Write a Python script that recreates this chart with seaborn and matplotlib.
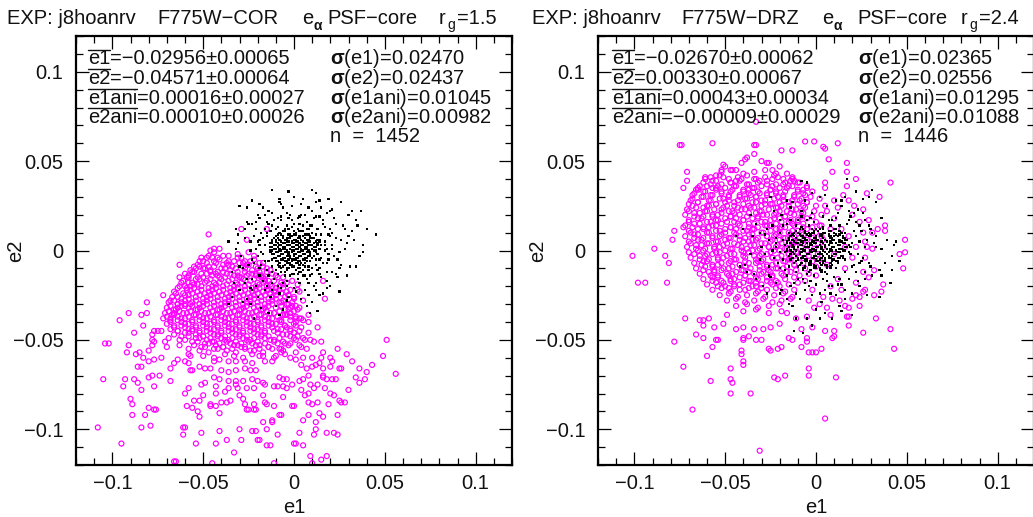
import numpy as np
import matplotlib
matplotlib.use("Agg")
import matplotlib.pyplot as plt
from matplotlib.lines import Line2D
from matplotlib.ticker import FixedLocator, FixedFormatter, MultipleLocator
import seaborn as sns

# ---------------- data (e1, e2 in units of 1e-3) ----------------
LEFT_MAG_OUTER = [
    (-104,-52),(-102,-52),(-105,-72),(-96,-39),(-91,-35),(-84,-36),(-81,-35),(-81,-29),(-72,-25),(-83,-42),
    (-88,-46),(-91,-53),(-92,-57),(-94,-76),(-93,-72),(-88,-72),(-90,-83),(-89,-86),(-89,-92),(-80,-88),
    (-82,-92),(-84,-99),(-79,-98),(-95,-108),(-108,-99),(-77,-89),(-76,-89),(-84,-78),(-86,-74),(-80,-71),
    (-78,-70),(-74,-70),(-77,-76),(-68,-73),(-60,-80),(-58,-77),(-61,-99),(-60,-99),(-61,-103),(-54,-108),
    (-66,-118),(-65,-118),(-51,-102),(-45,-119),(-43,-108),(-41,-101),(-37,-106),(-33,-113),(-29,-106),(-30,-100),
    (-23,-101),(-21,-101),(-20,-106),(-19,-106),(-15,-109),(-13,-109),(-11,-119),(-9,-103),(0,-108),(1,-108),
    (3,-102),(5,-109),(9,-115),(10,-119),(15,-117),(18,-115),(11,-103),(12,-100),(18,-102),(22,-102),
    (24,-103),(12,-96),(14,-91),(16,-93),(24,-92),(26,-85),(28,-85),(25,-84),(19,-86),(13,-85),
    (10,-86),(8,-85),(6,-81),(0,-87),(-1,-87),(-6,-82),(-11,-87),(-16,-85),(-21,-89),(-22,-89),
    (-25,-89),(-26,-89),(-27,-86),(-22,-86),(-8,-92),(-7,-92),(-12,-95),(-12,-96),(-17,-96),(-15,-100),
    (8,-92),(5,-95),(23,-72),(21,-72),(30,-78),(34,-71),(36,-74),(39,-72),(36,-66),(40,-68),
    (43,-64),(49,-59),(51,-50),(56,-69),(32,-62),(29,-58),(24,-55),(25,-66),(26,-66),(20,-65),
    (21,-62),(20,-60),(16,-57),(16,-71),(18,-72),(11,-77),(17,-77),(20,-80),(22,-81),(8,-80),
    (4,-78),(13,-43),(15,-51),(8,-40),(5,-39),(1,-37),(8,-36),(3,-32),(5,-28),(17,-27),
    (16,-17),(2,-19),(-15,12),(-29,12),(-26,6),(-47,9),(-46,0),(-44,1),(-41,1),(-51,-4),
    (-48,-4),(-63,-8),(-63,-15),(-57,-11),(-54,-10),(-52,-9),(-58,-15),(-60,-20),(-58,-18),(-64,-26),
    (-64,-30),(-68,-28),(-66,-35),(-68,-38),(-60,-31),(-57,-30),(-77,-45),(-75,-45),(-73,-45),(-78,-47),
    (-78,-50),(-78,-53),(-77,-51),(-80,-56),(-87,-58),(-85,-57),(-83,-60),(-80,-62),(-84,-65),(-86,-65),
    (-77,-61),(-73,-60),(-70,-54),(-69,-49),(-71,-51),(-63,-53),(-63,-50),(-58,-55),(-57,-59),(-57,-67),
    (-56,-67),(-52,-65),(-49,-66),(-46,-66),(-64,-61),(-66,-63),(-68,-66),(-60,-62),(-58,-58),(-58,-63),
    (-55,-84),(-53,-90),(-52,-93),(-52,-84),(-59,-87),(-56,-88),(-46,-86),(-46,-87),(-43,-87),(-41,-91),
    (-40,-85),(-37,-85),(-35,-84),(-50,-81),(-49,-74),(-51,-75),(-43,-76),(-43,-80),(-38,-79),(-36,-77),
    (-31,-77),(-30,-81),(-28,-83),(-32,-73),(-32,-75),(-26,-77),(-22,-77),(-17,-81),(-15,-86),(-16,-75),
    (-11,-76),(-8,-71),(-6,-72),(-4,-72),(-9,-76),(-6,-76),(-4,-77),(-1,-75),(3,-73),(5,-72),
    (8,-70),(9,-75),(13,-75),(16,-70),(16,-66),(12,-64),(10,-65),(7,-66),(4,-64),(14,-63),
    (15,-60),(10,-60),(5,-60),(1,-61),(-2,-60),(-7,-57),(-10,-59),(-12,-62),(-16,-62),(-19,-59),
    (-23,-63),(-21,-67),(-24,-67),(-27,-66),(-32,-67),(-36,-68),(-40,-67),(-23,-72),(-20,-73),(-17,-74),
    (-28,-73),(-36,-73),(-41,-72),(-44,-71),(-44,-62),(-41,-61),(-36,-62),(-32,-62),(-27,-62),(7,-55),
    (3,-53),(1,-50),(-2,-52),(-7,-55),(9,-50),(11,-51),(5,-49),(3,-45),(0,-46),(-2,-44),
    (-5,-42),(-8,-39),(-5,-36),(-2,-35),(0,-41),(3,-38),(2,-33),(-1,-31),(-4,-30),(-7,-29),
    (-3,-25),(0,-26),(3,-23),(2,-22),(-1,-17),(-6,-15),(-10,-23),(-12,-20),(-14,-22),(-16,-17),
    (-18,-14),(-21,-13),
]
LEFT_MAG_CORE = [
    (-44,-1),(-39,-3),(-31,-2),(-25,-1),
    (-50,-6),(-45,-4),(-41,-5),(-36,-6),(-31,-4),(-27,-6),(-22,-5),
    (-53,-8),(-47,-9),(-43,-7),(-39,-8),(-34,-9),(-30,-7),(-26,-8),(-21,-9),(-17,-7),
    (-56,-12),(-50,-10),(-46,-11),(-42,-12),(-38,-10),(-35,-11),(-31,-12),(-27,-10),(-23,-11),(-19,-12),(-15,-10),
    (-58,-14),(-53,-15),(-48,-13),(-45,-14),(-41,-15),(-37,-13),(-33,-14),(-29,-15),(-25,-13),(-21,-14),(-17,-15),(-12,-13),
    (-61,-17),(-56,-18),(-52,-16),(-48,-17),(-44,-18),(-40,-16),(-36,-17),(-32,-18),(-28,-16),(-24,-17),(-20,-18),(-16,-16),(-11,-17),(-7,-18),
    (-63,-20),(-59,-21),(-55,-19),(-51,-20),(-47,-21),(-43,-19),(-39,-20),(-35,-21),(-31,-19),(-27,-20),(-23,-21),(-19,-19),(-15,-20),(-10,-21),(-6,-19),
    (-66,-23),(-61,-24),(-57,-22),(-53,-23),(-49,-24),(-45,-22),(-41,-23),(-37,-24),(-33,-22),(-29,-23),(-25,-24),(-21,-22),(-17,-23),(-13,-24),(-8,-22),(-4,-23),
    (-67,-26),(-62,-27),(-58,-25),(-54,-26),(-50,-27),(-46,-25),(-42,-26),(-38,-27),(-34,-25),(-30,-26),(-26,-27),(-22,-25),(-18,-26),(-14,-27),(-10,-25),(-5,-26),(0,-27),
    (-69,-29),(-64,-30),(-60,-28),(-56,-29),(-52,-30),(-48,-28),(-44,-29),(-40,-30),(-36,-28),(-32,-29),(-28,-30),(-24,-28),(-20,-29),(-16,-30),(-12,-28),(-8,-29),(-3,-30),
    (-70,-32),(-66,-33),(-62,-31),(-58,-32),(-54,-33),(-50,-31),(-46,-32),(-42,-33),(-38,-31),(-34,-32),(-30,-33),(-26,-31),(-22,-32),(-18,-33),(-14,-31),(-10,-32),(-5,-33),(1,-31),
    (-71,-35),(-67,-36),(-63,-34),(-59,-35),(-55,-36),(-51,-34),(-47,-35),(-43,-36),(-39,-34),(-35,-35),(-31,-36),(-27,-34),(-23,-35),(-19,-36),(-15,-34),(-11,-35),(-6,-36),(0,-34),
    (-72,-38),(-68,-39),(-64,-37),(-60,-38),(-56,-39),(-52,-37),(-48,-38),(-44,-39),(-40,-37),(-36,-38),(-32,-39),(-28,-37),(-24,-38),(-20,-39),(-16,-37),(-12,-38),(-7,-39),(-2,-37),(4,-38),
    (-70,-41),(-66,-42),(-62,-40),(-58,-41),(-54,-42),(-50,-40),(-46,-41),(-42,-42),(-38,-40),(-34,-41),(-30,-42),(-26,-40),(-22,-41),(-18,-42),(-14,-40),(-10,-41),(-5,-42),(1,-40),
    (-68,-44),(-64,-45),(-60,-43),(-56,-44),(-52,-45),(-48,-43),(-44,-44),(-40,-45),(-36,-43),(-32,-44),(-28,-45),(-24,-43),(-20,-44),(-16,-45),(-12,-43),(-7,-44),(-2,-45),(4,-43),
    (-66,-47),(-62,-48),(-58,-46),(-54,-47),(-50,-48),(-46,-46),(-42,-47),(-38,-48),(-34,-46),(-30,-47),(-26,-48),(-22,-46),(-18,-47),(-14,-48),(-9,-46),(-4,-47),(2,-48),(8,-46),
    (-60,-50),(-56,-51),(-52,-49),(-48,-50),(-44,-51),(-40,-49),(-36,-50),(-32,-51),(-28,-49),(-24,-50),(-20,-51),(-16,-49),(-11,-50),(-6,-51),(0,-49),(6,-50),
    (-55,-53),(-51,-54),(-47,-52),(-43,-53),(-39,-54),(-35,-52),(-31,-53),(-27,-54),(-23,-52),(-19,-53),(-14,-54),(-9,-52),(-3,-53),(4,-54),
    (-52,-56),(-47,-57),(-42,-55),(-37,-56),(-32,-57),(-27,-55),(-22,-56),(-17,-57),(-12,-55),(-6,-56),(1,-57),
    (-50,-59),(-44,-60),(-38,-58),(-33,-59),(-28,-60),(-23,-58),(-17,-59),(-11,-60),(-5,-58),
]
LEFT_MAG_CORE2 = [
    (-47,-3),(-42,-4),(-36,-3),(-29,-4),(-22,-3),
    (-52,-6),(-48,-7),(-44,-6),(-37,-7),(-33,-6),(-28,-7),(-24,-6),(-19,-7),
    (-55,-9),(-49,-10),(-44,-9),(-40,-10),(-36,-8),(-32,-10),(-28,-9),(-25,-8),(-20,-10),(-17,-9),(-13,-11),
    (-60,-13),(-55,-12),(-51,-13),(-46,-12),(-43,-13),(-39,-12),(-35,-13),(-31,-14),(-27,-12),(-23,-13),(-19,-14),(-15,-12),(-10,-14),
    (-59,-15),(-54,-16),(-50,-15),(-46,-16),(-42,-14),(-38,-15),(-34,-16),(-30,-15),(-26,-14),(-22,-16),(-18,-15),(-14,-17),(-9,-15),
    (-62,-18),(-57,-20),(-53,-19),(-49,-18),(-45,-20),(-41,-18),(-37,-19),(-33,-20),(-29,-18),(-25,-19),(-21,-20),(-17,-18),(-13,-19),(-8,-20),(-4,-18),
    (-64,-21),(-59,-22),(-55,-21),(-51,-22),(-47,-23),(-43,-21),(-39,-22),(-35,-23),(-31,-21),(-27,-22),(-23,-23),(-19,-21),(-15,-22),(-11,-23),(-6,-21),(-2,-22),
    (-65,-24),(-60,-25),(-56,-24),(-52,-25),(-48,-26),(-44,-24),(-40,-25),(-36,-26),(-32,-24),(-28,-25),(-24,-26),(-20,-24),(-16,-25),(-12,-26),(-7,-24),(-3,-25),
    (-66,-28),(-62,-29),(-58,-27),(-54,-28),(-50,-29),(-46,-27),(-42,-28),(-38,-29),(-34,-27),(-30,-28),(-26,-29),(-22,-27),(-18,-28),(-14,-29),(-10,-27),(-6,-28),(-1,-29),
    (-68,-31),(-64,-32),(-60,-30),(-56,-31),(-52,-32),(-48,-30),(-44,-31),(-40,-32),(-36,-30),(-32,-31),(-28,-32),(-24,-30),(-20,-31),(-16,-32),(-12,-30),(-7,-31),(-2,-32),
    (-69,-34),(-65,-33),(-61,-35),(-57,-34),(-53,-33),(-49,-35),(-45,-34),(-41,-33),(-37,-35),(-33,-34),(-29,-33),(-25,-35),(-21,-34),(-17,-33),(-13,-35),(-8,-34),(-3,-33),
    (-70,-37),(-66,-36),(-62,-38),(-58,-37),(-54,-36),(-50,-38),(-46,-37),(-42,-36),(-38,-38),(-34,-37),(-30,-36),(-26,-38),(-22,-37),(-18,-36),(-14,-38),(-9,-37),(-4,-36),(1,-38),
    (-68,-40),(-64,-39),(-60,-41),(-56,-40),(-52,-39),(-48,-41),(-44,-40),(-40,-39),(-36,-41),(-32,-40),(-28,-39),(-24,-41),(-20,-40),(-16,-39),(-12,-41),(-7,-40),(-2,-39),
    (-66,-43),(-62,-42),(-58,-44),(-54,-43),(-50,-42),(-46,-44),(-42,-43),(-38,-42),(-34,-44),(-30,-43),(-26,-42),(-22,-44),(-18,-43),(-14,-42),(-9,-44),(-4,-43),(1,-42),
    (-64,-45),(-60,-46),(-56,-45),(-52,-46),(-48,-45),(-44,-47),(-40,-46),(-36,-45),(-32,-47),(-28,-46),(-24,-45),(-20,-47),(-16,-46),(-11,-45),(-6,-47),(0,-46),
    (-58,-48),(-54,-49),(-50,-48),(-46,-49),(-42,-48),(-38,-50),(-34,-49),(-30,-48),(-26,-50),(-22,-49),(-18,-48),(-13,-50),(-8,-49),(-2,-48),
    (-53,-51),(-49,-52),(-45,-51),(-41,-52),(-37,-51),(-33,-53),(-29,-52),(-25,-51),(-21,-53),(-16,-52),(-11,-51),(-5,-52),
    (-49,-54),(-44,-55),(-39,-54),(-34,-55),(-29,-54),(-24,-56),(-19,-55),(-14,-54),(-8,-55),
]
LEFT_BLK_CORE = [
    (-5,12),(-1,13),(3,11),(7,12),
    (-8,10),(-5,11),(-2,9),(1,10),(4,11),(7,9),(10,10),
    (-10,8),(-7,9),(-4,7),(-2,8),(0,9),(2,7),(5,8),(8,9),(11,7),
    (-12,6),(-9,7),(-7,5),(-5,6),(-3,7),(-1,5),(1,6),(3,7),(5,5),(7,6),(9,7),(12,5),
    (-13,4),(-10,5),(-8,3),(-6,4),(-4,5),(-2,3),(0,4),(2,5),(4,3),(6,4),(8,5),(10,3),(13,4),
    (-12,2),(-10,3),(-8,1),(-6,2),(-4,3),(-2,1),(0,2),(2,3),(4,1),(6,2),(8,3),(10,1),(12,2),(15,3),
    (-13,0),(-11,1),(-9,-1),(-7,0),(-5,1),(-3,-1),(-1,0),(1,1),(3,-1),(5,0),(7,1),(9,-1),(11,0),(14,1),
    (-12,-2),(-10,-1),(-8,-3),(-6,-2),(-4,-1),(-2,-3),(0,-2),(2,-1),(4,-3),(6,-2),(8,-1),(11,-3),(13,-2),
    (-11,-4),(-9,-3),(-7,-5),(-5,-4),(-3,-3),(-1,-5),(1,-4),(3,-3),(5,-5),(7,-4),(9,-3),(12,-5),
    (-10,-6),(-8,-7),(-6,-5),(-4,-6),(-2,-7),(0,-5),(2,-6),(4,-7),(6,-5),(9,-6),
    (-9,-8),(-6,-9),(-4,-7),(-2,-8),(0,-9),(2,-7),(5,-8),(8,-9),
    (-7,-10),(-4,-11),(-1,-9),(2,-10),(5,-11),
    (-5,-12),(-1,-13),(3,-12),
]
LEFT_BLK_CORE2 = [
    (-6,11),(-3,12),(0,11),(2,12),(5,11),(8,12),
    (-9,9),(-6,8),(-3,9),(-1,8),(1,9),(3,8),(6,9),(9,8),(12,9),
    (-11,7),(-8,6),(-6,7),(-4,6),(-2,7),(0,6),(2,7),(4,6),(6,7),(8,6),(10,7),(13,6),
    (-12,5),(-9,4),(-7,5),(-5,4),(-3,5),(-1,4),(1,5),(3,4),(5,5),(7,4),(9,5),(11,4),(14,5),
    (-13,2),(-11,3),(-9,2),(-7,3),(-5,2),(-3,3),(-1,2),(1,3),(3,2),(5,3),(7,2),(9,3),(11,2),(13,3),
    (-12,0),(-10,1),(-8,0),(-6,1),(-4,0),(-2,1),(0,0),(2,1),(4,0),(6,1),(8,0),(10,1),(12,0),
    (-11,-2),(-9,-1),(-7,-2),(-5,-1),(-3,-2),(-1,-1),(1,-2),(3,-1),(5,-2),(7,-1),(9,-2),(12,-1),
    (-10,-4),(-8,-3),(-6,-4),(-4,-3),(-2,-4),(0,-3),(2,-4),(4,-3),(6,-4),(8,-3),(10,-4),
    (-9,-6),(-7,-5),(-5,-6),(-3,-5),(-1,-6),(1,-5),(3,-6),(5,-5),(7,-6),
    (-8,-7),(-5,-8),(-3,-7),(-1,-8),(1,-7),(3,-8),(6,-7),
    (-6,-9),(-3,-10),(0,-9),(3,-10),(6,-9),
]
LEFT_BLK_HALO = [
    (-12,34),(-3,33),(10,34),(12,32),(14,28),(0,30),(5,29),(-8,29),(-7,26),(-30,25),
    (-26,24),(-17,24),(-14,22),(21,23),(20,22),(32,22),(30,20),(34,17),(45,9),(32,11),
    (33,6),(29,4),(28,1),(34,-9),(31,-9),(29,-14),(24,-15),(25,-23),(20,-20),(14,-25),
    (13,-34),(10,-29),(7,-31),(1,-23),(-4,-28),(-10,-31),(-22,-38),(-28,-29),(-26,-27),(-21,-20),
    (-23,-22),(-23,-16),(-26,-16),(-30,-9),(-32,1),(-32,12),(-31,9),(-26,16),(-23,15),(-19,18),
    (-21,16),(-15,-20),(-12,-18),(-7,-21),(-4,-20),(3,-18),(7,-16),(12,-18),(18,-17),(21,-12),
    (25,-10),(21,1),(25,-1),(20,8),(21,10),(10,14),(7,16),(3,19),(-4,21),(-12,14),
    (-15,10),(-19,6),(-21,1),(-23,-5),(-19,-10),(-14,-14),(-12,-12),(-10,12),(-7,17),(-1,17),
    (3,15),(12,19),(16,17),(14,6),(17,3),(14,-5),(18,-7),(10,-10),(14,-13),(5,-14),
    (1,-11),(-4,-10),(-8,-9),(-12,-5),(-13,-1),(-12,4),(-10,6),
    (-15,8),(-16,3),(-17,-2),(-14,-6),(-12,-9),(-9,-13),(-5,-14),(0,-13),(4,-12),(8,-11),
    (12,-8),(15,-4),(17,0),(17,5),(15,9),(13,12),(9,14),(5,14),(0,15),(-4,14),
    (-9,13),(-13,11),(-18,10),(-20,5),(-20,-3),(-18,-8),(-15,-11),(-11,-16),(-6,-18),(2,-16),
    (9,-14),(14,-10),(19,-5),(21,3),(20,12),(16,15),(11,18),(4,20),(-3,18),(-9,18),
    (-15,16),(-22,8),(-24,0),(-25,-8),(-19,-14),(-16,-22),(-8,-24),(0,-21),(6,-22),(12,-22),
    (18,-12),(24,-5),(26,6),(23,15),(18,21),(8,24),(-1,25),(-12,21),(-20,20),(-27,12),
    (-29,-3),(-27,-18),(-13,-26),(-30,-22),(-34,-26),(-36,-30),(-18,-32),(-14,-35),(-6,-33),(4,-27),
    (8,-25),(16,-24),(18,-21),(36,-3),(38,3),(27,14),(35,14),(-36,5),(-34,-12),
    (-16,12),(-14,15),(-11,17),(-7,19),(-2,20),(2,18),(6,20),(10,22),(14,19),(17,13),
    (19,9),(18,1),(19,-2),(16,-7),(13,-11),(10,-13),(6,-14),(2,-13),(-2,-14),(-7,-12),
    (-10,-11),(-16,-6),(-18,-1),(-19,3),(-17,7),(-21,12),(-24,5),(-22,-7),(-17,-17),(-12,-22),
    (-4,-17),(8,-18),(15,-15),(22,-3),(23,7),(22,18),(15,24),(4,26),(-6,24),(-16,20),
    (-25,15),(-27,7),(-28,-10),(-24,-21),(-9,-20),(11,-20),(26,-8),(28,12),(12,27),(-8,27),
    (-19,26),(-31,4),(-20,-26),(-3,-26),(23,-13),(30,8),(26,27),(19,29),(-23,28),(38,-1),
    (-33,-18),(-24,-30),(-8,-36),(9,-35),(40,12),(37,22),
]

RIGHT_MAG_OUTER = [
    (-101,-3),(-98,-18),(-94,-18),(-89,1),(-83,-3),(-81,-7),(-82,-18),(-78,-51),(-79,6),(-78,11),
    (-73,13),(-73,35),(-71,39),(-71,44),(-75,59),(-66,34),(-61,41),(-57,60),(-57,35),(-55,42),
    (-52,45),(-51,48),(-50,47),(-47,45),(-44,45),(-41,49),(-39,51),(-38,52),(-34,59),(-34,54),
    (-30,50),(-26,49),(-19,56),(-13,56),(-6,61),(-1,61),(5,57),(12,60),(7,51),(17,49),
    (17,44),(9,44),(22,40),(17,36),(5,38),(5,35),(28,32),(35,30),(41,38),(38,11),
    (38,14),(34,12),(31,10),(49,6),(49,-1),(46,-2),(48,-10),(37,-19),(36,-23),(32,-25),
    (27,-22),(33,-38),(41,-44),(43,-55),(26,-46),(18,-42),(18,-37),(17,-37),(11,-71),(5,-94),
    (-4,-66),(-4,-70),(-2,-57),(-4,-57),(3,-55),(9,-49),(10,-48),(5,-45),(10,-45),(0,-57),
    (-2,-43),(-5,-51),(-5,-49),(-8,-44),(-8,-54),(-15,-49),(-13,-50),(-19,-54),(-23,-71),(-21,-72),
    (-17,-70),(-21,-55),(-25,-56),(-26,-55),(-30,-50),(-33,-50),(-37,-48),(-40,-49),(-40,-50),(-41,-58),
    (-41,-56),(-40,-64),(-40,-62),(-47,-66),(-47,-72),(-46,-74),(-47,-80),(-36,-80),(-31,-112),(-68,-89),
    (-73,-65),(-58,-73),(-60,-59),(-57,-54),(-55,-50),(-54,-50),(-66,-47),(-62,-49),(-64,-39),(-62,-39),
    (-59,-38),(-72,-38),(-62,-42),(-56,-43),(-51,-41),(-49,-36),(-44,-44),(-40,-43),(-34,-44),(-29,-44),
    (-25,-43),(-20,-41),(-16,-35),(-11,-38),(-5,-37),(-1,-32),(6,-32),(9,-27),(13,-28),(16,-31),
    (20,-27),(24,-31),(22,-25),(26,-23),(29,-15),(32,-11),(27,-4),(31,1),(27,5),(26,10),
    (29,17),(26,23),(21,25),(18,28),(15,31),(10,28),(5,25),(2,29),(-2,33),(-5,36),
    (-10,38),(-13,40),(-16,43),(-20,47),(-24,45),(-27,49),(-74,59),(-33,59),(-33,72),(4,58),
    (6,22),(10,18),(14,12),(18,8),(22,2),(20,-4),(16,-10),(12,-16),(8,-20),(4,-26),
    (-2,-22),(0,-14),(6,-8),(10,-2),(4,6),(8,12),(2,14),(12,24),(20,20),(24,16),
    (26,-12),(22,-18),(14,-22),(2,-30),(-4,-28),(16,2),(28,2),(24,-26),(18,-32),(8,-36),
]
RIGHT_MAG_CORE = [
    (-52,44),(-46,45),(-40,43),(-34,44),(-28,45),(-22,43),
    (-58,41),(-53,42),(-48,40),(-43,41),(-38,42),(-33,40),(-28,41),(-23,42),(-18,40),(-13,41),
    (-62,38),(-57,39),(-52,37),(-47,38),(-42,39),(-37,37),(-32,38),(-27,39),(-22,37),(-17,38),(-12,39),
    (-65,35),(-60,36),(-55,34),(-50,35),(-45,36),(-40,34),(-35,35),(-30,36),(-25,34),(-20,35),(-15,36),(-10,34),(-5,35),
    (-67,32),(-62,33),(-57,31),(-52,32),(-47,33),(-42,31),(-37,32),(-32,33),(-27,31),(-22,32),(-17,33),(-12,31),(-7,32),
    (-68,29),(-63,30),(-58,28),(-53,29),(-48,30),(-43,28),(-38,29),(-33,30),(-28,28),(-23,29),(-18,30),(-13,28),(-8,29),(-3,30),
    (-70,26),(-65,27),(-60,25),(-55,26),(-50,27),(-45,25),(-40,26),(-35,27),(-30,25),(-25,26),(-20,27),(-15,25),(-10,26),(-5,27),(0,25),
    (-71,23),(-66,24),(-61,22),(-56,23),(-51,24),(-46,22),(-41,23),(-36,24),(-31,22),(-26,23),(-21,24),(-16,22),(-11,23),(-6,24),(-1,22),
    (-72,20),(-67,21),(-62,19),(-57,20),(-52,21),(-47,19),(-42,20),(-37,21),(-32,19),(-27,20),(-22,21),(-17,19),(-12,20),(-7,21),(-2,19),(3,20),
    (-70,17),(-65,18),(-60,16),(-55,17),(-50,18),(-45,16),(-40,17),(-35,18),(-30,16),(-25,17),(-20,18),(-15,16),(-10,17),(-5,18),(0,16),
    (-72,14),(-67,15),(-62,13),(-57,14),(-52,15),(-47,13),(-42,14),(-37,15),(-32,13),(-27,14),(-22,15),(-17,13),(-12,14),(-7,15),(-2,13),(3,14),
    (-70,11),(-65,12),(-60,10),(-55,11),(-50,12),(-45,10),(-40,11),(-35,12),(-30,10),(-25,11),(-20,12),(-15,10),(-10,11),(-5,12),(0,10),
    (-72,8),(-67,9),(-62,7),(-57,8),(-52,9),(-47,7),(-42,8),(-37,9),(-32,7),(-27,8),(-22,9),(-17,7),(-12,8),(-7,9),(-2,7),(3,8),
    (-70,5),(-65,6),(-60,4),(-55,5),(-50,6),(-45,4),(-40,5),(-35,6),(-30,4),(-25,5),(-20,6),(-15,4),(-10,5),(-5,6),(1,4),
    (-71,2),(-66,3),(-61,1),(-56,2),(-51,3),(-46,1),(-41,2),(-36,3),(-31,1),(-26,2),(-21,3),(-16,1),(-11,2),(-6,3),(-1,1),(4,2),
    (-70,-1),(-65,0),(-60,-2),(-55,-1),(-50,0),(-45,-2),(-40,-1),(-35,0),(-30,-2),(-25,-1),(-20,0),(-15,-2),(-10,-1),(-5,0),(1,-2),
    (-69,-4),(-64,-3),(-59,-5),(-54,-4),(-49,-3),(-44,-5),(-39,-4),(-34,-3),(-29,-5),(-24,-4),(-19,-3),(-14,-5),(-9,-4),(-4,-3),(2,-5),
    (-67,-7),(-62,-6),(-57,-8),(-52,-7),(-47,-6),(-42,-8),(-37,-7),(-32,-6),(-27,-8),(-22,-7),(-17,-6),(-12,-8),(-7,-7),(-2,-6),
    (-66,-10),(-61,-9),(-56,-11),(-51,-10),(-46,-9),(-41,-11),(-36,-10),(-31,-9),(-26,-11),(-21,-10),(-16,-9),(-11,-11),(-6,-10),(0,-9),
    (-64,-13),(-59,-12),(-54,-14),(-49,-13),(-44,-12),(-39,-14),(-34,-13),(-29,-12),(-24,-14),(-19,-13),(-14,-12),(-9,-14),(-4,-13),
    (-62,-16),(-57,-15),(-52,-17),(-47,-16),(-42,-15),(-37,-17),(-32,-16),(-27,-15),(-22,-17),(-17,-16),(-12,-15),(-6,-17),
    (-60,-19),(-55,-18),(-50,-20),(-45,-19),(-40,-18),(-35,-20),(-30,-19),(-25,-18),(-20,-20),(-15,-19),(-10,-18),
    (-57,-22),(-52,-21),(-47,-23),(-42,-22),(-37,-21),(-32,-23),(-27,-22),(-22,-21),(-17,-23),(-12,-22),
    (-53,-25),(-48,-24),(-43,-26),(-38,-25),(-33,-24),(-28,-26),(-23,-25),(-18,-24),(-13,-26),
    (-49,-28),(-44,-27),(-39,-29),(-34,-28),(-29,-27),(-24,-29),(-19,-28),(-14,-27),
    (-44,-31),(-38,-30),(-32,-32),(-26,-31),(-20,-30),
    (-40,-34),(-33,-33),(-26,-35),(-19,-34),
]
RIGHT_MAG_CORE2 = [
    (-61,40),(-55,39),(-51,41),(-44,39),(-41,40),(-34,40),(-31,39),(-24,40),(-21,41),(-14,39),
    (-64,36),(-58,37),(-54,36),(-47,38),(-44,36),(-38,37),(-34,35),(-27,37),(-24,36),(-18,37),(-13,36),(-9,38),
    (-65,34),(-61,33),(-55,35),(-52,33),(-46,34),(-40,33),(-37,34),(-31,32),(-25,34),(-22,33),(-16,35),(-10,33),(-7,34),
    (-68,31),(-62,30),(-58,31),(-51,29),(-48,31),(-42,30),(-36,31),(-33,30),(-27,32),(-21,30),(-18,31),(-12,30),(-6,31),
    (-69,28),(-65,27),(-59,28),(-55,26),(-48,28),(-45,27),(-39,29),(-33,27),(-30,28),(-24,26),(-18,28),(-15,27),(-9,28),(-5,27),
    (-68,25),(-62,24),(-59,25),(-52,23),(-49,25),(-43,24),(-37,25),(-34,24),(-28,26),(-22,24),(-19,25),(-13,23),(-7,25),
    (-70,22),(-64,21),(-60,22),(-54,20),(-48,22),(-45,21),(-39,23),(-33,21),(-30,22),(-23,20),(-20,22),(-14,21),(-8,22),
    (-67,19),(-63,18),(-57,19),(-54,17),(-47,19),(-44,18),(-38,19),(-32,18),(-29,20),(-23,18),(-17,19),(-14,17),(-8,19),
    (-70,16),(-64,15),(-58,16),(-55,14),(-49,16),(-43,15),(-40,17),(-34,15),(-28,16),(-25,14),(-19,16),(-13,15),(-10,16),
    (-68,13),(-62,12),(-59,13),(-53,11),(-47,13),(-44,12),(-37,13),(-34,12),(-28,14),(-22,12),(-19,13),(-13,11),(-7,13),
    (-69,10),(-65,9),(-59,10),(-53,8),(-50,10),(-44,9),(-38,11),(-35,9),(-29,10),(-23,8),(-20,10),(-14,9),(-8,10),
    (-67,7),(-63,6),(-57,7),(-54,5),(-48,7),(-42,6),(-39,7),(-33,6),(-27,8),(-24,6),(-18,7),(-12,5),(-9,7),
    (-69,4),(-63,3),(-59,4),(-53,2),(-49,4),(-43,3),(-37,5),(-34,3),(-28,4),(-22,2),(-19,4),(-13,3),(-7,4),
    (-66,1),(-62,0),(-56,1),(-53,-1),(-47,1),(-41,0),(-38,1),(-32,0),(-26,2),(-23,0),(-17,1),(-11,-1),
    (-67,-2),(-61,-3),(-57,-2),(-51,-4),(-47,-2),(-40,-3),(-37,-1),(-31,-3),(-27,-2),(-21,-4),(-15,-2),(-12,-3),
    (-64,-5),(-60,-6),(-54,-5),(-48,-7),(-45,-5),(-39,-6),(-33,-5),(-30,-6),(-24,-4),(-18,-6),(-15,-5),
    (-63,-8),(-57,-9),(-54,-8),(-48,-10),(-42,-8),(-39,-9),(-33,-7),(-27,-9),(-24,-8),(-18,-10),(-12,-8),
    (-62,-11),(-56,-12),(-52,-11),(-46,-13),(-40,-11),(-37,-12),(-31,-11),(-25,-12),(-22,-10),(-16,-12),
    (-58,-14),(-54,-15),(-48,-14),(-45,-16),(-39,-14),(-33,-15),(-30,-13),(-24,-15),(-18,-14),
    (-57,-17),(-51,-18),(-47,-17),(-42,-19),(-36,-17),(-33,-18),(-27,-17),(-21,-18),
    (-54,-20),(-48,-21),(-45,-20),(-39,-22),(-33,-20),(-30,-21),(-24,-19),
]
RIGHT_BLK_CORE = [
    (-8,13),(-4,14),(0,12),(4,13),(8,14),
    (-11,11),(-7,12),(-4,10),(-1,11),(2,12),(5,10),(8,11),(11,12),(14,10),
    (-13,9),(-10,10),(-7,8),(-5,9),(-2,10),(0,8),(3,9),(5,10),(8,8),(11,9),(14,10),
    (-15,7),(-12,8),(-9,6),(-7,7),(-4,8),(-2,6),(0,7),(3,8),(5,6),(8,7),(10,8),(13,6),(16,7),
    (-16,5),(-13,6),(-11,4),(-8,5),(-6,6),(-3,4),(-1,5),(1,6),(4,4),(6,5),(9,6),(11,4),(14,5),(17,6),
    (-17,3),(-14,4),(-12,2),(-9,3),(-7,4),(-4,2),(-2,3),(0,4),(3,2),(5,3),(8,4),(10,2),(13,3),(16,4),(19,2),
    (-16,1),(-13,2),(-11,0),(-8,1),(-6,2),(-3,0),(-1,1),(1,2),(4,0),(6,1),(9,2),(11,0),(14,1),(17,2),
    (-17,-1),(-14,0),(-12,-2),(-9,-1),(-7,0),(-4,-2),(-2,-1),(0,0),(3,-2),(5,-1),(8,0),(10,-2),(13,-1),(16,0),(19,-2),
    (-15,-3),(-12,-2),(-10,-4),(-7,-3),(-5,-2),(-2,-4),(0,-3),(2,-2),(5,-4),(7,-3),(10,-2),(12,-4),(15,-3),
    (-14,-5),(-11,-6),(-8,-4),(-6,-5),(-3,-6),(-1,-4),(2,-5),(4,-6),(7,-4),(9,-5),(12,-6),(15,-4),
    (-12,-7),(-9,-8),(-6,-6),(-4,-7),(-1,-8),(1,-6),(4,-7),(6,-8),(9,-6),(12,-7),
    (-10,-9),(-7,-10),(-4,-8),(-1,-9),(2,-10),(5,-8),(8,-9),(11,-10),
    (-7,-11),(-4,-12),(-1,-10),(2,-11),(5,-12),(8,-10),
    (-5,-13),(-1,-14),(3,-12),(6,-13),
]
RIGHT_BLK_CORE2 = [
    (-9,12),(-6,11),(-2,12),(1,11),(4,12),(7,11),(10,12),(13,11),
    (-12,10),(-9,9),(-6,10),(-3,9),(-1,10),(2,9),(4,10),(7,9),(10,10),(13,9),(16,10),
    (-14,8),(-11,7),(-8,8),(-6,7),(-3,8),(-1,7),(2,8),(4,7),(7,8),(9,7),(12,8),(15,7),
    (-15,6),(-12,5),(-10,6),(-7,5),(-5,6),(-2,5),(0,6),(3,5),(5,6),(8,5),(10,6),(13,5),(16,6),
    (-16,4),(-13,3),(-10,4),(-8,3),(-5,4),(-3,3),(-1,4),(2,3),(4,4),(7,3),(9,4),(12,3),(15,4),(18,3),
    (-15,2),(-12,1),(-10,2),(-7,1),(-5,2),(-2,1),(0,2),(3,1),(5,2),(8,1),(10,2),(13,1),(16,2),
    (-16,0),(-13,-1),(-11,0),(-8,-1),(-6,0),(-3,-1),(-1,0),(2,-1),(4,0),(7,-1),(9,0),(12,-1),(15,0),(18,-1),
    (-14,-2),(-11,-3),(-9,-2),(-6,-3),(-4,-2),(-1,-3),(1,-2),(4,-3),(6,-2),(9,-3),(11,-2),(14,-3),
    (-13,-4),(-10,-5),(-7,-4),(-5,-5),(-2,-4),(0,-5),(3,-4),(5,-5),(8,-4),(10,-5),(13,-4),
    (-11,-6),(-8,-7),(-5,-6),(-3,-7),(0,-6),(2,-7),(5,-6),(8,-7),(11,-6),
    (-9,-8),(-6,-9),(-3,-8),(0,-9),(3,-8),(6,-9),(9,-8),
    (-6,-10),(-3,-11),(0,-10),(3,-11),(6,-10),
]
RIGHT_BLK_HALO = [
    (17,40),(31,34),(29,30),(33,27),(26,29),(16,30),(11,28),(14,25),(2,30),(-2,32),
    (-5,38),(-8,39),(-13,27),(-16,28),(-20,17),(-24,14),(-27,12),(-31,10),(-35,8),(-40,12),
    (-44,8),(-42,-9),(-38,-12),(-33,-16),(-29,-20),(-26,-14),(-22,-18),(-20,-24),(-16,-27),(-13,-31),
    (-11,-38),(-12,-45),(-7,-46),(-2,-42),(2,-38),(5,-35),(9,-38),(13,-31),(16,-27),(20,-24),
    (24,-20),(27,-16),(31,-14),(35,-11),(38,-7),(42,-3),(42,-11),(43,3),(44,5),(36,1),
    (33,2),(31,10),(29,14),(27,17),(26,21),(21,21),(18,17),(22,8),(20,4),(16,-5),
    (20,-9),(24,-7),(27,-12),(13,-16),(9,-20),(5,-22),(2,-24),(-4,-20),(-7,-16),(-11,-12),
    (-15,-9),(-18,-5),(-20,-1),(-22,2),(-18,6),(-15,10),(-11,14),(-5,17),(-2,21),(4,19),
    (9,17),(13,14),(15,8),
    (-20,10),(-22,4),(-23,-4),(-20,-10),(-16,-14),(-10,-16),(-3,-17),(4,-16),(10,-15),(16,-12),
    (21,-8),(23,-2),(24,5),(21,11),(17,15),(11,18),(4,19),(-3,18),(-10,17),(-16,15),
    (-26,6),(-28,-2),(-26,-9),(-14,-20),(-6,-22),(7,-20),(14,-19),(26,-4),(28,6),(24,14),
    (19,19),(-8,22),(-19,20),(-30,2),(-9,-27),(3,-29),(11,-25),(30,-9),(33,8),(6,25),
    (-18,14),(-14,17),(-8,19),(-1,16),(7,17),(12,21),(18,22),(22,16),(25,11),(27,2),
    (25,-6),(22,-12),(18,-16),(12,-19),(6,-17),(0,-19),(-6,-18),(-12,-18),(-17,-11),(-21,-7),
    (-24,0),(-22,7),(-28,9),(-31,-5),(-25,-15),(-19,-22),(-11,-24),(-2,-25),(8,-24),(16,-22),
    (23,-17),(29,-7),(32,4),(30,12),(23,23),(14,28),(5,31),(-6,28),(-14,24),(-23,22),
    (-33,15),(-36,-2),(-34,-13),(-27,-24),(-15,-30),(0,-33),(14,-34),(28,-25),(36,-14),(39,6),
    (36,18),(22,33),(-25,30),(-36,20),(-39,-8),(-5,-38),(20,-36),(35,-26),(41,-18),(46,-6),
]

# ticks / text
TICK_VALUES = [-0.1, -0.05, 0.0, 0.05, 0.1]
TICK_LABELS = ["\u22120.1", "\u22120.05", "0", "0.05", "0.1"]
AX_LIMITS = (-0.12, 0.12)
X_LABEL, Y_LABEL = "e1", "e2"

LEFT_TITLE = ["EXP: j8hoanrv", "F775W\u2212COR", "e", "\u03b1", "PSF\u2212core", "r", "g", "=1.5"]
RIGHT_TITLE = ["EXP: j8hoanrv", "F775W\u2212DRZ", "e", "\u03b1", "PSF\u2212core", "r", "g", "=2.4"]
MEAN_NAMES = ["e1", "e2", "e1ani", "e2ani"]
LEFT_MEANS = ["\u22120.02956\u00b10.00065", "\u22120.04571\u00b10.00064", "0.00016\u00b10.00027", "0.00010\u00b10.00026"]
RIGHT_MEANS = ["\u22120.02670\u00b10.00062", "0.00330\u00b10.00067", "0.00043\u00b10.00034", "\u22120.00009\u00b10.00029"]
LEFT_SIGMAS = ["0.02470", "0.02437", "0.01045", "0.00982"]
RIGHT_SIGMAS = ["0.02365", "0.02556", "0.01295", "0.01088"]
LEFT_N, RIGHT_N = 1452, 1446

# ---------------- style ----------------
sns.set_theme(style="ticks")
FONT = "Liberation Sans"
plt.rcParams["font.family"] = [FONT, "DejaVu Sans"]
plt.rcParams["mathtext.fontset"] = "custom"
plt.rcParams["mathtext.rm"] = FONT
plt.rcParams["mathtext.it"] = FONT + ":italic"
plt.rcParams["mathtext.bf"] = FONT + ":bold"
FS = 14.5
TXT = "#111111"
MAGENTA = "#ff00ff"

W, H = 1033, 517
fig = plt.figure(figsize=(W / 100, H / 100), dpi=100)
fig.patch.set_facecolor("white")
renderer = fig.canvas.get_renderer()


def fpos(x, y):
    return x / W, 1 - y / H


def panel(left_px, mag, blk):
    ax = fig.add_axes([left_px / W, (H - 465) / H, 436 / W, 429 / H])
    m = np.array(mag, dtype=float) / 1000.0
    b = np.array(blk, dtype=float) / 1000.0
    sns.scatterplot(x=m[:, 0], y=m[:, 1], ax=ax, marker="o", s=13,
                    facecolor="none", edgecolor=MAGENTA, linewidth=0.85, zorder=2)
    sns.scatterplot(x=b[:, 0], y=b[:, 1], ax=ax, marker="s", s=2.6,
                    color="black", edgecolor="none", linewidth=0, zorder=3)
    ax.set_xlim(*AX_LIMITS)
    ax.set_ylim(*AX_LIMITS)
    for axis in (ax.xaxis, ax.yaxis):
        axis.set_major_locator(FixedLocator(TICK_VALUES))
        axis.set_major_formatter(FixedFormatter(TICK_LABELS))
        axis.set_minor_locator(MultipleLocator(0.01))
    ax.tick_params(which="both", direction="in", top=True, right=True,
                   color="black", labelsize=FS, labelcolor=TXT)
    ax.tick_params(which="major", length=9.5, width=0.9)
    ax.tick_params(which="minor", length=5, width=0.9)
    ax.tick_params(axis="x", pad=6.5)
    ax.tick_params(axis="y", pad=9)
    for sp in ax.spines.values():
        sp.set_linewidth(1.6)
        sp.set_color("black")
    ax.set_facecolor("white")
    ax.set_xlabel(X_LABEL, fontsize=FS, color=TXT)
    ax.set_ylabel(Y_LABEL, fontsize=FS, color=TXT)
    ax.xaxis.set_label_coords(0.5, -0.078)
    ax.yaxis.set_label_coords(-0.117, 0.5)
    ax.grid(False)
    return ax


panel(76, LEFT_MAG_OUTER + LEFT_MAG_CORE + LEFT_MAG_CORE2,
      LEFT_BLK_CORE + LEFT_BLK_CORE2 + LEFT_BLK_HALO)
panel(598, RIGHT_MAG_OUTER + RIGHT_MAG_CORE + RIGHT_MAG_CORE2,
      RIGHT_BLK_CORE + RIGHT_BLK_CORE2 + RIGHT_BLK_HALO)


def title(parts, xs, y=18):
    # parts: EXP, filter, e, alpha, PSF-core, r, g, =value
    for i, (txt, x) in enumerate(zip(parts, xs)):
        if i == 3:
            fig.text(*fpos(x, y + 8), txt, fontsize=10, fontweight="bold",
                     va="center", ha="left", color=TXT)
        elif i == 6:
            fig.text(*fpos(x, y + 7), txt, fontsize=10, va="center", ha="left", color=TXT)
        else:
            fig.text(*fpos(x, y), txt, fontsize=FS, va="center", ha="left", color=TXT)


title(LEFT_TITLE, [7, 157, 302, 314, 327, 439, 447, 457])
title(RIGHT_TITLE, [532, 681, 822, 834, 857, 961, 969, 979])


def stats(x1, x2, means, sigmas, n):
    ys = [59, 78.5, 98, 117.5, 137]
    for name, val, sig, y in zip(MEAN_NAMES, means, sigmas, ys):
        t = fig.text(*fpos(x1, y), name, fontsize=FS, va="center", ha="left", color=TXT)
        bb = t.get_window_extent(renderer)
        ybar = (H - y + 9.5) / H
        fig.add_artist(Line2D([bb.x0 / W, bb.x1 / W], [ybar, ybar],
                              transform=fig.transFigure, lw=1.0, color=TXT))
        fig.text(bb.x1 / W, 1 - y / H, "=" + val, fontsize=FS, va="center", ha="left", color=TXT)
        fig.text(*fpos(x2, y), r"$\mathbf{\sigma}$(%s)=%s" % (name, sig),
                 fontsize=FS, va="center", ha="left", color=TXT)
    fig.text(*fpos(x2, ys[4]), "n  =  %d" % n, fontsize=FS, va="center", ha="left", color=TXT)


stats(88, 330, LEFT_MEANS, LEFT_SIGMAS, LEFT_N)
stats(612, 858, RIGHT_MEANS, RIGHT_SIGMAS, RIGHT_N)

fig.savefig("out.png", dpi=100, facecolor="white")
